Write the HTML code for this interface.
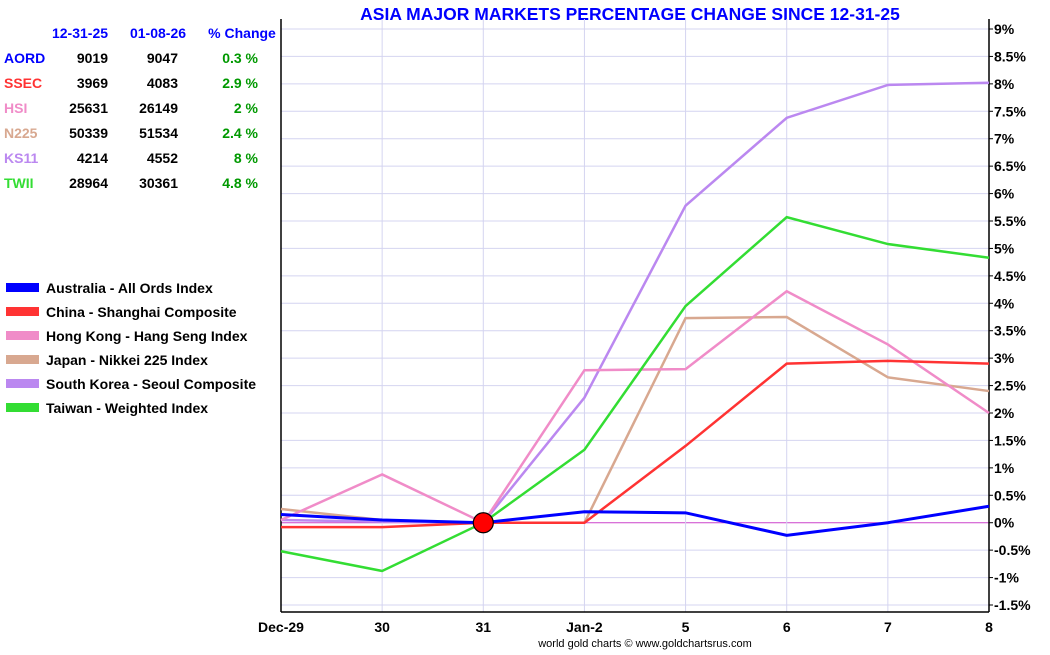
<!DOCTYPE html>
<html><head><meta charset="utf-8"><style>
body{margin:0;background:#fff;font-family:"Liberation Sans",Arial,sans-serif;}
svg text{font-family:"Liberation Sans",Arial,sans-serif;}
</style></head><body>
<svg id="c" width="1050" height="650" xmlns="http://www.w3.org/2000/svg">
<text x="630" y="20" text-anchor="middle" font-size="17.5" font-weight="bold" fill="#0000ff">ASIA MAJOR MARKETS PERCENTAGE CHANGE SINCE 12-31-25</text>
<g id="grid"></g><g id="axes"></g><g id="lines"></g><g id="table"></g><g id="legend"></g>
<text x="645" y="647" text-anchor="middle" font-size="11" fill="#000">world gold charts © www.goldchartsrus.com</text>
</svg>
<script>
const categories=["Dec-29","30","31","Jan-2","5","6","7","8"];
const yTicks=[-1.5,-1,-0.5,0,0.5,1,1.5,2,2.5,3,3.5,4,4.5,5,5.5,6,6.5,7,7.5,8,8.5,9];
const seriesNames=["Australia - All Ords Index","China - Shanghai Composite","Hong Kong - Hang Seng Index","Japan - Nikkei 225 Index","South Korea - Seoul Composite","Taiwan - Weighted Index"];
const seriesColors=["#0000ff","#ff3333","#f08cc8","#d8a890","#bb88f0","#33dd33"];
const aord=[0.15,0.05,0,0.2,0.18,-0.23,0,0.3];
const ssec=[-0.08,-0.08,0,0,1.4,2.9,2.95,2.9];
const hsi=[0.05,0.88,0,2.78,2.8,4.22,3.25,2.0];
const n225=[0.25,0.05,0,0,3.73,3.75,2.65,2.4];
const ks11=[0.05,0.02,0,2.28,5.78,7.38,7.98,8.02];
const twii=[-0.52,-0.88,0,1.33,3.95,5.57,5.08,4.83];
const tickers=["AORD","SSEC","HSI","N225","KS11","TWII"];
const startVals=["9019","3969","25631","50339","4214","28964"];
const endVals=["9047","4083","26149","51534","4552","30361"];
const pctVals=["0.3 %","2.9 %","2 %","2.4 %","8 %","4.8 %"];
const allSeries=[ks11,n225,hsi,twii,ssec,aord];
const order=[4,3,2,5,1,0];
const NS="http://www.w3.org/2000/svg";
const L=281,R=989,T=29,B=605;
const xs=i=>L+(R-L)*i/(categories.length-1);
const ys=v=>T+(9-v)*(B-T)/10.5;
function mk(tag,attrs,parent,txt){const e=document.createElementNS(NS,tag);for(const k in attrs)e.setAttribute(k,attrs[k]);if(txt!==undefined)e.textContent=txt;document.getElementById(parent).appendChild(e);return e;}
yTicks.forEach(v=>{
 const g=mk('line',{x1:L,x2:R,y1:ys(v),y2:ys(v),stroke:v===0?'#cc44cc':'#d4d4f0','stroke-width':1},'grid');
 
 
 const t=mk('text',{x:R+5,y:ys(v)+5,'font-size':14,'font-weight':'bold'},'axes',v+'%');
 
 
 const tk=mk('line',{x1:R,x2:R+4,y1:ys(v),y2:ys(v),stroke:'#000'},'axes');
 
 
});
categories.forEach((c,i)=>{
 const g=mk('line',{x1:xs(i),x2:xs(i),y1:T-10,y2:612,stroke:'#d4d4f0'},'grid');
 
 
 const t=mk('text',{x:xs(i),y:632,'font-size':14,'font-weight':'bold','text-anchor':'middle'},'axes',c);
 
 
});
let a=mk('line',{x1:L,x2:L,y1:T-10,y2:612,stroke:'#000','stroke-width':1.5},'axes');

a=mk('line',{x1:R,x2:R,y1:T-10,y2:612,stroke:'#000','stroke-width':1.5},'axes');

a=mk('line',{x1:L,x2:R,y1:612,y2:612,stroke:'#000','stroke-width':1.5},'axes');

allSeries.forEach((s,k)=>{
 const idx=order[k];
 const p=mk('polyline',{points:s.map((v,i)=>xs(i)+','+ys(v)).join(' '),fill:'none',stroke:seriesColors[idx],'stroke-width':idx===0?3:2.5},'lines');
 
 
});
const dot=mk('circle',{cx:xs(2),cy:ys(0),r:10,fill:'#ff0000',stroke:'#000','stroke-width':1.2},'lines');


[["12-31-25",80],["01-08-26",158],["% Change",242]].forEach(h=>{
 const t=mk('text',{x:h[1],y:38,'font-size':14,'font-weight':'bold',fill:'#0000ff','text-anchor':'middle'},'table',h[0]);
 
 
});
tickers.forEach((tk,i)=>{
 const y=63+i*25;
 let t=mk('text',{x:4,y:y,'font-size':14,'font-weight':'bold',fill:seriesColors[i]},'table',tk);
 
 t=mk('text',{x:108,y:y,'font-size':14,'font-weight':'bold','text-anchor':'end'},'table',startVals[i]);
 
 t=mk('text',{x:178,y:y,'font-size':14,'font-weight':'bold','text-anchor':'end'},'table',endVals[i]);
 
 t=mk('text',{x:258,y:y,'font-size':14,'font-weight':'bold','text-anchor':'end',fill:'#009900'},'table',pctVals[i]);
 
});
seriesNames.forEach((n,i)=>{
 const y=288+i*24;
 const r=mk('rect',{x:6,y:y-5,width:33,height:9,fill:seriesColors[i]},'legend');
 
 const t=mk('text',{x:46,y:y+5,'font-size':14,'font-weight':'bold',textLength:n.length*7.5>222?222:0},'legend',n);
 t.removeAttribute('textLength');
 
});
</script>
</body></html>
